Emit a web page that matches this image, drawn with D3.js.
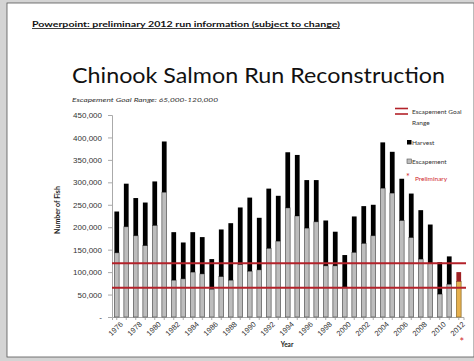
<!DOCTYPE html>
<html>
<head>
<meta charset="utf-8">
<script src="https://cdn.jsdelivr.net/npm/d3@7"></script>
<style>
  html, body { margin: 0; padding: 0; background: #d4d4d4; }
  svg { display: block; font-family: Lato, "Open Sans", "DejaVu Sans", sans-serif; }
</style>
</head>
<body>
<svg id="chart" width="474" height="361"></svg>
<script>
// Chinook salmon run reconstruction, 1976-2012 (2012 preliminary)
const years = [1976,1977,1978,1979,1980,1981,1982,1983,1984,1985,1986,1987,1988,1989,1990,1991,1992,1993,1994,1995,1996,1997,1998,1999,2000,2001,2002,2003,2004,2005,2006,2007,2008,2009,2010,2011,2012];
const escapement = [143000,201000,181000,159000,204000,278000,82000,85000,100000,96000,62000,90000,82000,117000,102000,105000,153000,169000,243000,225000,198000,212000,114000,114000,67000,144000,164000,181000,287000,276000,215000,177000,129000,119000,51000,73000,79000];
const harvest = [92000,96000,84000,96000,98000,113000,107000,81000,89000,82000,67000,105000,127000,127000,164000,116000,133000,101000,124000,136000,107000,93000,101000,76000,71000,80000,83000,69000,102000,92000,93000,98000,109000,87000,71000,62000,21000];
const yTicks = [0,50000,100000,150000,200000,250000,300000,350000,400000,450000];
const goalRange = [65000, 120000];
const preliminaryYear = 2012;

const svg = d3.select("#chart");

// slide page
svg.append("rect").attr("x", 7).attr("y", 3).attr("width", 467).attr("height", 354)
  .attr("fill", "#ffffff").attr("stroke", "#555").attr("stroke-width", 0.8);

// header note
svg.append("text").attr("x", 32).attr("y", 27)
  .attr("font-size", 8).attr("font-weight", "bold").attr("fill", "#111")
  .attr("text-decoration", "underline")
  .attr("textLength", 308).attr("lengthAdjust", "spacingAndGlyphs")
  .text("Powerpoint: preliminary 2012 run information (subject to change)");

// title
svg.append("text").attr("x", 72).attr("y", 83)
  .attr("font-size", 22).attr("fill", "#111")
  .attr("textLength", 373).attr("lengthAdjust", "spacingAndGlyphs")
  .text("Chinook Salmon Run Reconstruction");

svg.append("text").attr("x", 72).attr("y", 102)
  .attr("font-size", 6.5).attr("font-style", "italic").attr("fill", "#333")
  .attr("textLength", 146).attr("lengthAdjust", "spacingAndGlyphs")
  .text("Escapement Goal Range: 65,000-120,000");

const x = d3.scaleBand().domain(years).range([112, 463.5]).paddingInner(0.5).paddingOuter(0.25);
const y = d3.scaleLinear().domain([0, 450000]).range([317, 115]);

// y axis
const yAxis = d3.axisLeft(y).tickValues(yTicks).tickSize(4).tickPadding(6)
  .tickFormat(d => d === 0 ? "-" : d3.format(",")(d));
const gy = svg.append("g").attr("transform", "translate(112,0)").call(yAxis);
gy.select(".domain").attr("stroke", "#aaa");
gy.selectAll(".tick line").attr("stroke", "#aaa");
gy.selectAll(".tick text").attr("font-size", 8).attr("fill", "#333");

// x axis
const xAxis = d3.axisBottom(x).tickSize(3).tickPadding(3)
  .tickFormat(d => (d % 2 === 0 ? d : ""));
const gx = svg.append("g").attr("transform", "translate(0,317)").call(xAxis);
gx.select(".domain").attr("stroke", "#aaa");
gx.selectAll(".tick line").attr("stroke", "#aaa");
gx.selectAll(".tick text").attr("font-size", 7.5).attr("fill", "#333")
  .attr("text-anchor", "end").attr("dx", "-0.1em").attr("dy", "0.55em")
  .attr("transform", "rotate(-45)");

// stacked bars
const rows = years.map((yr, i) => ({ year: yr, esc: escapement[i], harv: harvest[i] }));
const bars = svg.append("g");
bars.selectAll("rect.esc").data(rows).join("rect").attr("class", "esc")
  .attr("x", d => x(d.year)).attr("width", x.bandwidth())
  .attr("y", d => y(d.esc)).attr("height", d => y(0) - y(d.esc))
  .attr("fill", d => d.year === preliminaryYear ? "#e6b04e" : "#bdbdbd")
  .attr("stroke", d => d.year === preliminaryYear ? "#8a6a2a" : "#555")
  .attr("stroke-width", 0.7);
bars.selectAll("rect.harv").data(rows).join("rect").attr("class", "harv")
  .attr("x", d => x(d.year)).attr("width", x.bandwidth())
  .attr("y", d => y(d.esc + d.harv)).attr("height", d => y(d.esc) - y(d.esc + d.harv))
  .attr("fill", d => d.year === preliminaryYear ? "#9e1f22" : "#000");

// escapement goal range lines
svg.append("g").selectAll("line").data(goalRange).join("line")
  .attr("x1", 112).attr("x2", 466)
  .attr("y1", d => y(d)).attr("y2", d => y(d))
  .attr("stroke", "#b3222a").attr("stroke-width", 2);

// axis titles
svg.append("text").attr("transform", "translate(60,210) rotate(-90)")
  .attr("text-anchor", "middle").attr("font-size", 7).attr("font-weight", "bold").attr("fill", "#222")
  .text("Number of Fish");
svg.append("text").attr("x", 287).attr("y", 347)
  .attr("text-anchor", "middle").attr("font-size", 6.5).attr("font-weight", "bold").attr("fill", "#222")
  .text("Year");

// preliminary marker under 2012
svg.append("text").attr("x", x(preliminaryYear) + x.bandwidth() / 2 + 3).attr("y", 346)
  .attr("text-anchor", "middle").attr("font-size", 11).attr("fill", "#d0282e").text("*");

// legend
const lg = svg.append("g");
lg.append("line").attr("x1", 395).attr("x2", 408).attr("y1", 108.5).attr("y2", 108.5).attr("stroke", "#b3222a").attr("stroke-width", 1.6);
lg.append("line").attr("x1", 395).attr("x2", 408).attr("y1", 114).attr("y2", 114).attr("stroke", "#b3222a").attr("stroke-width", 1.6);
lg.append("text").attr("x", 412).attr("y", 114).attr("font-size", 6.5).attr("fill", "#333").text("Escapement Goal");
lg.append("text").attr("x", 412).attr("y", 125).attr("font-size", 6.5).attr("fill", "#333").text("Range");
lg.append("rect").attr("x", 407).attr("y", 140).attr("width", 4.5).attr("height", 4.5).attr("fill", "#000");
lg.append("text").attr("x", 412).attr("y", 145).attr("font-size", 6.5).attr("fill", "#333").text("Harvest");
lg.append("rect").attr("x", 407).attr("y", 159).attr("width", 4.5).attr("height", 4.5)
  .attr("fill", "#bdbdbd").attr("stroke", "#555").attr("stroke-width", 0.6);
lg.append("text").attr("x", 412).attr("y", 164).attr("font-size", 6.5).attr("fill", "#333").text("Escapement");
lg.append("text").attr("x", 408).attr("y", 180).attr("text-anchor", "middle").attr("font-size", 9).attr("fill", "#d0282e").text("*");
lg.append("text").attr("x", 415).attr("y", 181).attr("font-size", 6.5).attr("fill", "#d0282e").text("Preliminary");
</script>
</body>
</html>
